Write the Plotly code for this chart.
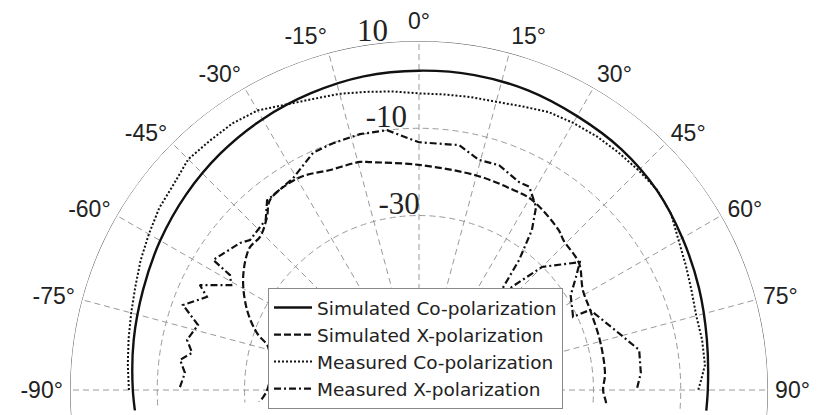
import plotly.graph_objects as go

# ---------------- data (dB vs angle in degrees) ----------------
theta_sim_co = [-100, -90, -80, -70, -60, -50, -40, -30, -20, -10, 0, 10, 20, 30, 40, 50, 60, 70, 80, 90, 100]
r_sim_co = [-4.9, -4.4, -3.6, -2.7, -1.5, -0.3, 0.8, 1.7, 2.4, 3.0, 3.2, 3.3, 3.1, 2.5, 2.1, 1.2, -0.3, -1.7, -3.0, -3.8, -3.9]

theta_sim_x = [-96, -90, -82, -74, -70.6, -65, -57.3, -50, -46, -41.3, -38, -29.5, -22, -14.5, -12, 0,
               15, 25, 30.7, 41, 44, 51.6, 58.6, 65, 75, 85, 90, 94, 98]
r_sim_x = [-32.2, -35.2, -35.5, -34.0, -30.6, -26.5, -22.1, -19.3, -19.4, -17.2, -14.6, -14.1, -15.6, -16.0, -16.6, -18.4,
           -19.1, -19.3, -19.3, -21.3, -22.3, -23.2, -26.0, -26.7, -27.0, -27.2, -27.8, -27.0, -26.5]

theta_meas_co = [-90, -85, -80, -75, -70, -65, -60, -55, -50, -45, -40, -35, -30, -25, -20, -15, -10, -5, 0,
                 5, 10, 15, 20, 25, 30, 35, 40, 45, 50, 55, 60, 65, 70, 75, 80, 85, 88, 90]
r_meas_co = [-3.5, -3.0, -2.4, -1.7, -0.8, 0.4, 1.5, 2.7, 3.4, 4.8, 4.6, 4.6, 4.0, 2.2, 1.0, 0.3, -0.6, -1.3, -2.0,
             -2.0, -1.8, -1.6, -0.8, 0.3, 0.7, 1.0, 1.1, 1.2, 1.3, 0.5, -1.3, -2.5, -3.5, -4.2, -4.1, -4.2, -5.3, -6.0]

theta_meas_x = [-89.3, -85.8, -82.8, -80.7, -77.8, -73.6, -70.2, -66.3, -64.4, -60.8, -58.7, -57.7, -50.6, -48.4,
                -42, -38.7, -30.7, -24, -19.2, -13, -7, 0, 9.3, 14.6, 19.6, 25.7, 28.5, 32.6, 35.2, 37.6, 39, 41,
                42, 45, 51.5, 54.3, 58, 64.6, 64.9, 73, 79.7, 85.6, 89.5]
r_meas_x = [-15.2, -16.2, -14.8, -17.3, -15.6, -17.2, -12.5, -16.9, -14.3, -20.7, -19.3, -14.2, -16.9, -18.2,
            -17.5, -14.3, -13.5, -10.4, -10.1, -9.8, -10.0, -13.2, -13.1, -15.5, -15.3, -17.1, -17.0, -20.2, -25.1,
            -32.4, -38.4, -44.0, -38.2, -30.1, -22.9, -25.7, -29.0, -30.9, -26.7, -23.0, -18.7, -19.0, -20.0]

angle_ticks = [-90, -75, -60, -45, -30, -15, 0, 15, 30, 45, 60, 75, 90]
angle_labels = [f"{a}\u00b0" for a in angle_ticks]
r_grid = [-50, -30, -10]
r_labels = [10, -10, -30]
r_min, r_max = -70, 10

series_names = ["Simulated Co-polarization", "Simulated X-polarization",
                "Measured Co-polarization", "Measured X-polarization"]

# ---------------- styling / placement constants ----------------
ink = "#111111"
grid = "#9a9a9a"
label_theta = [-5.2, -2.7, 0.3]      # angular placement of the radial labels
label_r_shift = -1.4                 # put label baseline on its ring
frame_theta = list(range(-96, 97, 2))  # outer boundary circle of the polar frame

# ---------------- figure ----------------
fig = go.Figure()
fig.add_trace(go.Scatterpolar(theta=frame_theta, r=[r_max] * len(frame_theta), mode="lines",
                              line=dict(color="#555", width=1), showlegend=False, hoverinfo="skip"))
fig.add_trace(go.Scatterpolar(theta=theta_sim_co, r=r_sim_co, mode="lines", name=series_names[0],
                              line=dict(color=ink, width=2.4, shape="spline")))
fig.add_trace(go.Scatterpolar(theta=theta_sim_x, r=r_sim_x, mode="lines", name=series_names[1],
                              line=dict(color=ink, width=2.2, dash="7px,3px", shape="spline")))
fig.add_trace(go.Scatterpolar(theta=theta_meas_co, r=r_meas_co, mode="lines", name=series_names[2],
                              line=dict(color=ink, width=2, dash="2px,2px")))
fig.add_trace(go.Scatterpolar(theta=theta_meas_x, r=r_meas_x, mode="lines", name=series_names[3],
                              line=dict(color=ink, width=2.2, dash="7px,3px,2px,3px")))
fig.add_trace(go.Scatterpolar(theta=label_theta, r=[v + label_r_shift for v in r_labels], mode="text",
                              text=[str(v) for v in r_labels], textposition="top left",
                              textfont=dict(family="Liberation Serif, Times New Roman, serif", size=31, color="#222"),
                              cliponaxis=False, showlegend=False, hoverinfo="skip"))

# the page body has an 8px default margin, so the plot is laid out 8px up/left
fig.update_layout(
    width=831, height=415,
    margin=dict(l=62, r=71, t=33, b=8, pad=0),
    paper_bgcolor="white",
    font=dict(family="Liberation Sans, Arial, sans-serif", color="#222"),
    showlegend=True,
    legend=dict(x=0.2837, y=0.3396, xanchor="left", yanchor="top",
                bgcolor="white", bordercolor="#888", borderwidth=1,
                font=dict(family="DejaVu Sans, Liberation Sans, sans-serif", size=18.5, color="#222"),
                tracegroupgap=0, itemwidth=38),
    polar=dict(
        sector=[-4.1, 184.1],
        bgcolor="white",
        angularaxis=dict(rotation=90, direction="clockwise", thetaunit="degrees",
                         tickmode="array", tickvals=angle_ticks, ticktext=angle_labels,
                         showline=False,
                         showgrid=True, gridcolor=grid, griddash="6px,4px", gridwidth=1,
                         ticks="outside", ticklen=2, tickcolor="rgba(0,0,0,0)",
                         tickfont=dict(size=23, color="#222")),
        radialaxis=dict(range=[r_min, r_max], tickmode="array", tickvals=r_grid,
                        showticklabels=False, showline=False, ticks="",
                        showgrid=True, gridcolor=grid, griddash="6px,4px", gridwidth=1),
    ),
)

fig.write_html("out.html")
